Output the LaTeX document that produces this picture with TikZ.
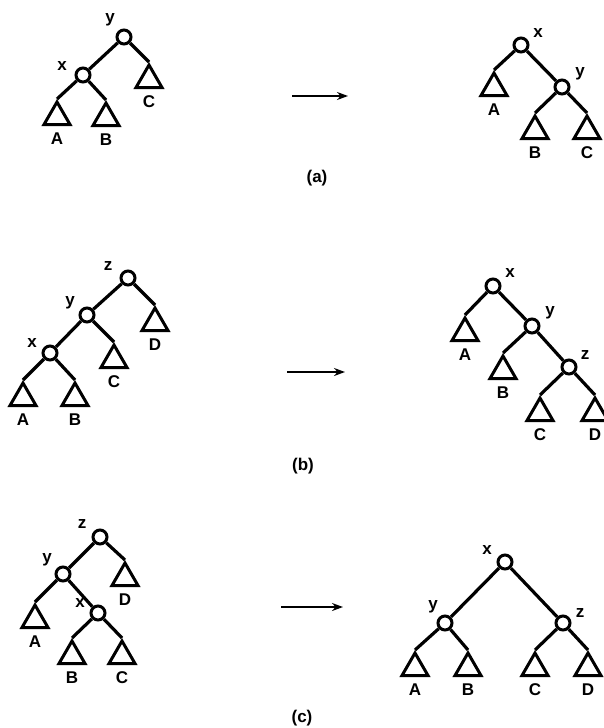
\documentclass[tikz,border=0pt]{standalone}
\usepackage{fontspec}
\setsansfont{Liberation Sans}
\usetikzlibrary{positioning,arrows.meta,shapes.geometric}

\begin{document}
\begin{tikzpicture}[
  x=1pt, y=-1pt,
  vtx/.style={draw, circle, line width=3pt, minimum size=14pt, inner sep=0pt},
  sub/.style={draw, regular polygon, regular polygon sides=3, minimum size=30pt, inner sep=0pt, line width=3pt, anchor=corner 1},
  lbl/.style={font=\sffamily\bfseries\fontsize{17}{17}\selectfont, inner sep=0pt, outer sep=0pt},
  leaf/.style={lbl, below=7pt of #1},
  link/.style={line width=3.2pt},
  rot/.style={line width=2.6pt, -{Stealth[length=11pt, width=8pt]}},
]
\useasboundingbox (0,0) rectangle (603,728);

% (a) before
\node[vtx] (ay) at (124,37) {};
\node[vtx] (ax) at (83,75) {};
\node[lbl] (ay-t) at (110,20) {y};
\node[lbl] (ax-t) at (62,66) {x};
\node[sub] (aA) at (57,99) {};  \node[leaf=aA] (aA-t) {A};
\node[sub] (aB) at (106,100) {}; \node[leaf=aB] (aB-t) {B};
\node[sub] (aC) at (149,62) {};  \node[leaf=aC] (aC-t) {C};
\draw[link] (ay) -- (ax);
\draw[link] (ay) -- (aC.corner 1);
\draw[link] (ax) -- (aA.corner 1);
\draw[link] (ax) -- (aB.corner 1);

% (a) after
\node[vtx] (ax2) at (521,45) {};
\node[vtx] (ay2) at (562,87) {};
\node[lbl] (ax2-t) at (538,33) {x};
\node[lbl] (ay2-t) at (580,74) {y};
\node[sub] (aA2) at (494,70) {};  \node[leaf=aA2] (aA2-t) {A};
\node[sub] (aB2) at (535,113) {}; \node[leaf=aB2] (aB2-t) {B};
\node[sub] (aC2) at (587,113) {}; \node[leaf=aC2] (aC2-t) {C};
\draw[link] (ax2) -- (ay2);
\draw[link] (ax2) -- (aA2.corner 1);
\draw[link] (ay2) -- (aB2.corner 1);
\draw[link] (ay2) -- (aC2.corner 1);

\coordinate (a-from) at (292,96);
\coordinate (a-to) at (348,96);
\draw[rot] (a-from) -- (a-to);
\node[lbl] (a-cap) at (317,178) {(a)};

% (b) before
\node[vtx] (bz) at (128,278) {};
\node[vtx] (by) at (87,315) {};
\node[vtx] (bx) at (50,353) {};
\node[lbl] (bz-t) at (108,266) {z};
\node[lbl] (by-t) at (70,303) {y};
\node[lbl] (bx-t) at (32,343) {x};
\node[sub] (bA) at (23,380) {};  \node[leaf=bA] (bA-t) {A};
\node[sub] (bB) at (75,380) {};  \node[leaf=bB] (bB-t) {B};
\node[sub] (bC) at (114,342) {}; \node[leaf=bC] (bC-t) {C};
\node[sub] (bD) at (155,305) {}; \node[leaf=bD] (bD-t) {D};
\draw[link] (bz) -- (by);
\draw[link] (by) -- (bx);
\draw[link] (bz) -- (bD.corner 1);
\draw[link] (by) -- (bC.corner 1);
\draw[link] (bx) -- (bA.corner 1);
\draw[link] (bx) -- (bB.corner 1);

% (b) after
\node[vtx] (bx2) at (493,286) {};
\node[vtx] (by2) at (532,326) {};
\node[vtx] (bz2) at (569,367) {};
\node[lbl] (bx2-t) at (510,273) {x};
\node[lbl] (by2-t) at (550,313) {y};
\node[lbl] (bz2-t) at (585,355) {z};
\node[sub] (bA2) at (465,315) {}; \node[leaf=bA2] (bA2-t) {A};
\node[sub] (bB2) at (503,353) {}; \node[leaf=bB2] (bB2-t) {B};
\node[sub] (bC2) at (540,395) {}; \node[leaf=bC2] (bC2-t) {C};
\node[sub] (bD2) at (595,395) {}; \node[leaf=bD2] (bD2-t) {D};
\draw[link] (bx2) -- (by2);
\draw[link] (by2) -- (bz2);
\draw[link] (bx2) -- (bA2.corner 1);
\draw[link] (by2) -- (bB2.corner 1);
\draw[link] (bz2) -- (bC2.corner 1);
\draw[link] (bz2) -- (bD2.corner 1);

\coordinate (b-from) at (287,372);
\coordinate (b-to) at (345,372);
\draw[rot] (b-from) -- (b-to);
\node[lbl] (b-cap) at (303,466) {(b)};

% (c) before
\node[vtx] (cz) at (100,537) {};
\node[vtx] (cy) at (63,574) {};
\node[vtx] (cx) at (98,613) {};
\node[lbl] (cz-t) at (82,524) {z};
\node[lbl] (cy-t) at (47,560) {y};
\node[lbl] (cx-t) at (80,603) {x};
\node[sub] (cA) at (35,602) {};  \node[leaf=cA] (cA-t) {A};
\node[sub] (cB) at (72,638) {};  \node[leaf=cB] (cB-t) {B};
\node[sub] (cC) at (122,638) {}; \node[leaf=cC] (cC-t) {C};
\node[sub] (cD) at (125,560) {}; \node[leaf=cD] (cD-t) {D};
\draw[link] (cz) -- (cy);
\draw[link] (cy) -- (cx);
\draw[link] (cz) -- (cD.corner 1);
\draw[link] (cy) -- (cA.corner 1);
\draw[link] (cx) -- (cB.corner 1);
\draw[link] (cx) -- (cC.corner 1);

% (c) after
\node[vtx] (cx2) at (505,562) {};
\node[vtx] (cy2) at (445,623) {};
\node[vtx] (cz2) at (563,623) {};
\node[lbl] (cx2-t) at (487,550) {x};
\node[lbl] (cy2-t) at (433,607) {y};
\node[lbl] (cz2-t) at (580,613) {z};
\node[sub] (cA2) at (415,650) {}; \node[leaf=cA2] (cA2-t) {A};
\node[sub] (cB2) at (468,650) {}; \node[leaf=cB2] (cB2-t) {B};
\node[sub] (cC2) at (535,650) {}; \node[leaf=cC2] (cC2-t) {C};
\node[sub] (cD2) at (588,650) {}; \node[leaf=cD2] (cD2-t) {D};
\draw[link] (cx2) -- (cy2);
\draw[link] (cx2) -- (cz2);
\draw[link] (cy2) -- (cA2.corner 1);
\draw[link] (cy2) -- (cB2.corner 1);
\draw[link] (cz2) -- (cC2.corner 1);
\draw[link] (cz2) -- (cD2.corner 1);

\coordinate (c-from) at (281,607);
\coordinate (c-to) at (343,607);
\draw[rot] (c-from) -- (c-to);
\node[lbl] (c-cap) at (302,718) {(c)};
\end{tikzpicture}
\end{document}
